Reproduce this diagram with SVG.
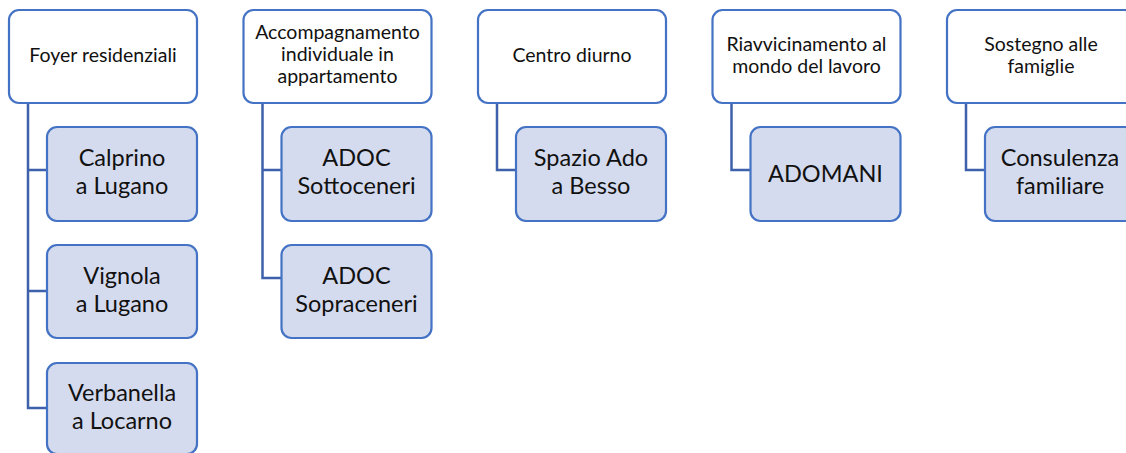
<svg xmlns="http://www.w3.org/2000/svg" width="1126" height="453" viewBox="0 0 1126 453">
<style>
.p{fill:#ffffff;stroke:#4472C4;stroke-width:2.2}
.c{fill:#D5DBEE;stroke:#4472C4;stroke-width:2.2}
.l{fill:none;stroke:#3D62AB;stroke-width:2.5}
.tp{font-family:Lato,"Liberation Sans",sans-serif;font-size:19.5px;fill:#111;text-anchor:middle}
.tc{font-family:Lato,"Liberation Sans",sans-serif;font-size:23.5px;fill:#111;text-anchor:middle}
</style>
<rect width="1126" height="453" fill="#ffffff"/>
<g id="connectors">
<path class="l" d="M28,103V170H47M28,103V291H47M28,103V408H47"/>
<path class="l" d="M262.5,103V170H281.5M262.5,103V278H281.5"/>
<path class="l" d="M497,103V170H516"/>
<path class="l" d="M731.5,103V170H750.5"/>
<path class="l" d="M966,103V170H985"/>
</g>
<g id="n1"><rect class="p" x="9" y="10" width="188" height="93" rx="10"/><text class="tp" x="103" y="62">Foyer residenziali</text></g>
<g id="n1a"><rect class="c" x="47" y="127" width="150" height="94" rx="10"/><text class="tc" x="122" y="166">Calprino</text><text class="tc" x="122" y="194">a Lugano</text></g>
<g id="n1b"><rect class="c" x="47" y="245" width="150" height="93" rx="10"/><text class="tc" x="122" y="284">Vignola</text><text class="tc" x="122" y="312">a Lugano</text></g>
<g id="n1c"><rect class="c" x="47" y="363" width="150" height="91" rx="10"/><text class="tc" x="122" y="401">Verbanella</text><text class="tc" x="122" y="429">a Locarno</text></g>
<g id="n2"><rect class="p" x="243.5" y="10" width="188" height="93" rx="10"/><text class="tp" x="337.5" y="39">Accompagnamento</text><text class="tp" x="337.5" y="61">individuale in</text><text class="tp" x="337.5" y="83">appartamento</text></g>
<g id="n2a"><rect class="c" x="281.5" y="127" width="150" height="94" rx="10"/><text class="tc" x="356.5" y="166">ADOC</text><text class="tc" x="356.5" y="194">Sottoceneri</text></g>
<g id="n2b"><rect class="c" x="281.5" y="245" width="150" height="93" rx="10"/><text class="tc" x="356.5" y="284">ADOC</text><text class="tc" x="356.5" y="312">Sopraceneri</text></g>
<g id="n3"><rect class="p" x="478" y="10" width="188" height="93" rx="10"/><text class="tp" x="572" y="62">Centro diurno</text></g>
<g id="n3a"><rect class="c" x="516" y="127" width="150" height="94" rx="10"/><text class="tc" x="591" y="166">Spazio Ado</text><text class="tc" x="591" y="194">a Besso</text></g>
<g id="n4"><rect class="p" x="712.5" y="10" width="188" height="93" rx="10"/><text class="tp" x="806.5" y="51">Riavvicinamento al</text><text class="tp" x="806.5" y="73">mondo del lavoro</text></g>
<g id="n4a"><rect class="c" x="750.5" y="127" width="150" height="94" rx="10"/><text class="tc" x="825.5" y="182">ADOMANI</text></g>
<g id="n5"><rect class="p" x="947" y="10" width="188" height="93" rx="10"/><text class="tp" x="1041" y="51">Sostegno alle</text><text class="tp" x="1041" y="73">famiglie</text></g>
<g id="n5a"><rect class="c" x="985" y="127" width="150" height="94" rx="10"/><text class="tc" x="1060" y="166">Consulenza</text><text class="tc" x="1060" y="194">familiare</text></g>
</svg>
